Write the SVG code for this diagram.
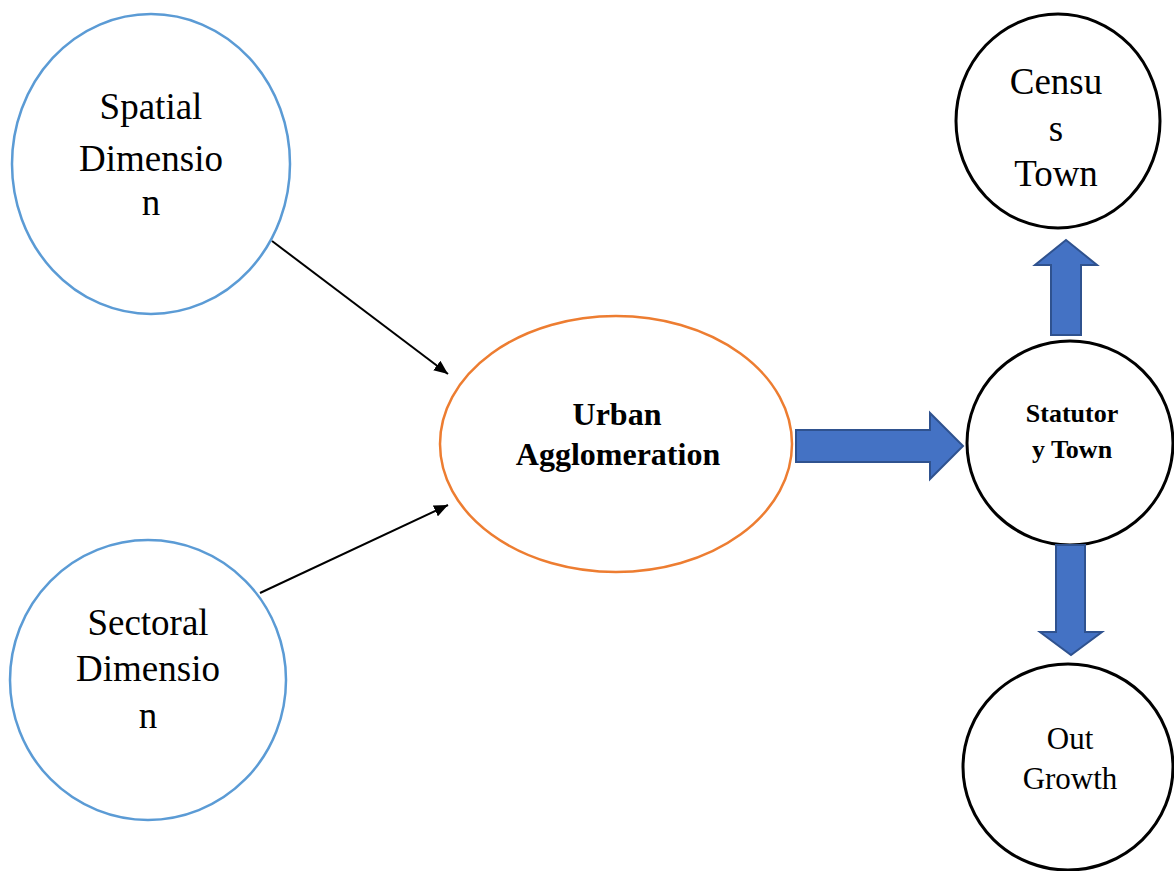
<svg xmlns="http://www.w3.org/2000/svg" width="1174" height="871" viewBox="0 0 1174 871">
  <style>
    .dim { fill: #fff; stroke: #5B9BD5; stroke-width: 2.5; }
    .core { fill: #fff; stroke: #ED7D31; stroke-width: 2.5; }
    .town { fill: #fff; stroke: #000; stroke-width: 3; }
    .serif { font-family: "Liberation Serif", "Times New Roman", serif; fill: #000; text-anchor: middle; }
    .big { font-size: 37px; }
    .bold { font-weight: bold; }
    .thin { stroke: #000; stroke-width: 2; fill: none; marker-end: url(#tip); }
    .block { fill: #4472C4; stroke: #2F528F; stroke-width: 2; stroke-linejoin: miter; }
  </style>
  <defs>
    <marker id="tip" viewBox="0 0 14 12" refX="14" refY="6" markerWidth="14" markerHeight="12" markerUnits="userSpaceOnUse" orient="auto">
      <path d="M0,0 L14,6 L0,12 z" fill="#000"/>
    </marker>
  </defs>
  <rect width="1174" height="871" fill="#fff"/>

  <g id="spatial">
    <ellipse class="dim" cx="151" cy="164" rx="139" ry="150"/>
    <text class="serif big" x="151" y="119">Spatial</text>
    <text class="serif big" x="151" y="171">Dimensio</text>
    <text class="serif big" x="151" y="215">n</text>
  </g>

  <g id="sectoral">
    <ellipse class="dim" cx="148" cy="680" rx="138" ry="140"/>
    <text class="serif big" x="148" y="635">Sectoral</text>
    <text class="serif big" x="148" y="681">Dimensio</text>
    <text class="serif big" x="148" y="728">n</text>
  </g>

  <g id="urban">
    <ellipse class="core" cx="616" cy="444" rx="176" ry="128"/>
    <text class="serif bold" font-size="32" x="617" y="425">Urban</text>
    <text class="serif bold" font-size="32" x="618" y="465">Agglomeration</text>
  </g>

  <g id="census">
    <ellipse class="town" cx="1058" cy="121" rx="102" ry="107"/>
    <text class="serif big" x="1056" y="94">Censu</text>
    <text class="serif big" x="1056" y="141">s</text>
    <text class="serif big" x="1056" y="186">Town</text>
  </g>

  <g id="statutory">
    <ellipse class="town" cx="1070" cy="443" rx="103" ry="102"/>
    <text class="serif bold" font-size="26" x="1072" y="422">Statutor</text>
    <text class="serif bold" font-size="26" x="1072" y="458">y Town</text>
  </g>

  <g id="outgrowth">
    <ellipse class="town" cx="1068" cy="767" rx="105" ry="103"/>
    <text class="serif" font-size="31" x="1070" y="749">Out</text>
    <text class="serif" font-size="31" x="1070" y="789">Growth</text>
  </g>

  <g id="connectors">
    <line class="thin" x1="272" y1="241" x2="448" y2="374"/>
    <line class="thin" x1="260" y1="593" x2="448" y2="505"/>
    <!-- block arrow: urban agglomeration to statutory town -->
    <path class="block" d="M796,430 L930,430 L930,413 L963,446 L930,479 L930,462 L796,462 Z"/>
    <!-- block arrow: statutory town up to census town -->
    <path class="block" d="M1051,335 L1051,265 L1035,265 L1066,240 L1097,265 L1081,265 L1081,335 Z"/>
    <!-- block arrow: statutory town down to out growth -->
    <path class="block" d="M1056,545 L1085,545 L1085,632 L1102,632 L1071,655 L1040,632 L1056,632 Z"/>
  </g>
</svg>
